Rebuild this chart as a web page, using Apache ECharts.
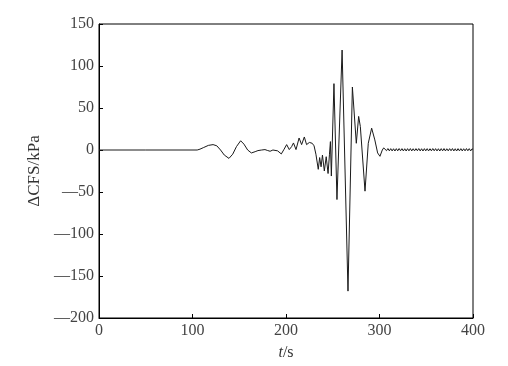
<!DOCTYPE html>
<html>
<head>
<meta charset="utf-8">
<script src="https://cdn.jsdelivr.net/npm/echarts@6/dist/echarts.min.js"></script>
<style>html,body{margin:0;padding:0;background:#fff;}#c{width:508px;height:366px;}</style>
</head>
<body>
<div id="c"></div>
<script>
var xTicks = [0, 100, 200, 300, 400];
var yTicks = [-200, -150, -100, -50, 0, 50, 100, 150];

var signal = [
  [0,0],[50,0],[105,0],[108,1],[112,3],[117,5.5],[122,6.4],[126,5],[130,0],[134,-6],[139,-10],[143,-5],
  [147,4],[151.5,11],[155,7],[159,0],[163,-3.5],[167,-2],[170,-0.7],[174,0],[177.5,0.5],[180,-0.5],
  [183,-1.5],[186,0],[188,1.3],[191,-1],[195,-4.7],[198,1],[200.7,6.4],[203.5,0.5],[206,4],[208,8.4],
  [210.7,0.5],[214,14.3],[216.7,6.4],[219.6,15.5],[222,6.4],[225,9],[228,8],[230,5],[232,-5],
  [234.5,-23],[236,-9],[237.5,-20],[239,-6],[241,-25],[243,-8],[245,-28],[246.5,-5],[247.5,10],
  [248.5,-31],[251.3,79],[254.5,-59],[260,119],[266.3,-168],[271,75],[275.2,8],[277.7,40],[279.5,28],
  [284.5,-49],[288,8],[291.6,26],[295,12],[298,-3.5],[300.5,-7.5],[303,0],[304.5,2.5],
  [306,1.8],[307.5,-0.8],[309,1.7],[310.5,-1.0],[312,1.6],[313.5,-1.1],[315,1.5],[316.5,-1.2],
  [318,1.6],[319.5,-1.0],[321,1.7],[322.5,-0.9],[324,1.6],[325.5,-1.1],[327,1.5],[328.5,-1.2],
  [330,1.6],[331.5,-1.0],[333,1.7],[334.5,-1.1],[336,1.5],[337.5,-1.0],[339,1.6],[340.5,-0.9],
  [342,1.7],[343.5,-1.1],[345,1.5],[346.5,-1.2],[348,1.6],[349.5,-1.0],[351,1.6],[352.5,-1.1],
  [354,1.5],[355.5,-1.0],[357,1.7],[358.5,-0.9],[360,1.6],[361.5,-1.1],[363,1.5],[364.5,-1.2],
  [366,1.6],[367.5,-1.0],[369,1.7],[370.5,-1.1],[372,1.5],[373.5,-1.0],[375,1.6],[376.5,-0.9],
  [378,1.7],[379.5,-1.1],[381,1.5],[382.5,-1.2],[384,1.6],[385.5,-1.0],[387,1.6],[388.5,-1.1],
  [390,1.5],[391.5,-1.0],[393,1.7],[394.5,-0.9],[396,1.6],[397.5,-1.1],[399,1.5],[400,0.5]
];

var chart = echarts.init(document.getElementById('c'), null, {renderer: 'canvas'});
var font = '"Liberation Serif", "DejaVu Serif", serif';
chart.setOption({
  animation: false,
  backgroundColor: '#fff',
  grid: {left: 99, right: 35, top: 24, bottom: 47, show: true, borderColor: '#000', borderWidth: 1, backgroundColor: 'transparent'},
  xAxis: {
    type: 'value', min: xTicks[0], max: xTicks[xTicks.length - 1], interval: 100,
    name: '{i|t}/s', nameLocation: 'middle', nameGap: 27,
    nameTextStyle: {fontFamily: font, fontSize: 16, color: '#333', rich: {i: {fontStyle: 'italic', fontFamily: font, fontSize: 16, color: '#333'}}},
    axisLine: {onZero: false, lineStyle: {color: '#000', width: 1}},
    axisTick: {inside: true, length: 4, lineStyle: {color: '#000'}},
    axisLabel: {fontFamily: font, fontSize: 16, color: '#444', margin: 5},
    splitLine: {show: false}
  },
  yAxis: {
    type: 'value', min: yTicks[0], max: yTicks[yTicks.length - 1], interval: 50,
    name: 'ΔCFS/kPa', nameLocation: 'middle', nameGap: 44,
    nameTextStyle: {fontFamily: font, fontSize: 17, color: '#333'},
    axisLine: {onZero: false, lineStyle: {color: '#000', width: 1}},
    axisTick: {inside: true, length: 4, lineStyle: {color: '#000'}},
    axisLabel: {fontFamily: font, fontSize: 16, color: '#444', margin: 5,
      formatter: function (v) { return v < 0 ? '\u2014' + Math.abs(v) : String(v); }},
    splitLine: {show: false}
  },
  series: [{
    type: 'line', data: signal, showSymbol: false, symbol: 'none',
    lineStyle: {color: '#1a1a1a', width: 1}
  }]
});
</script>
</body>
</html>
